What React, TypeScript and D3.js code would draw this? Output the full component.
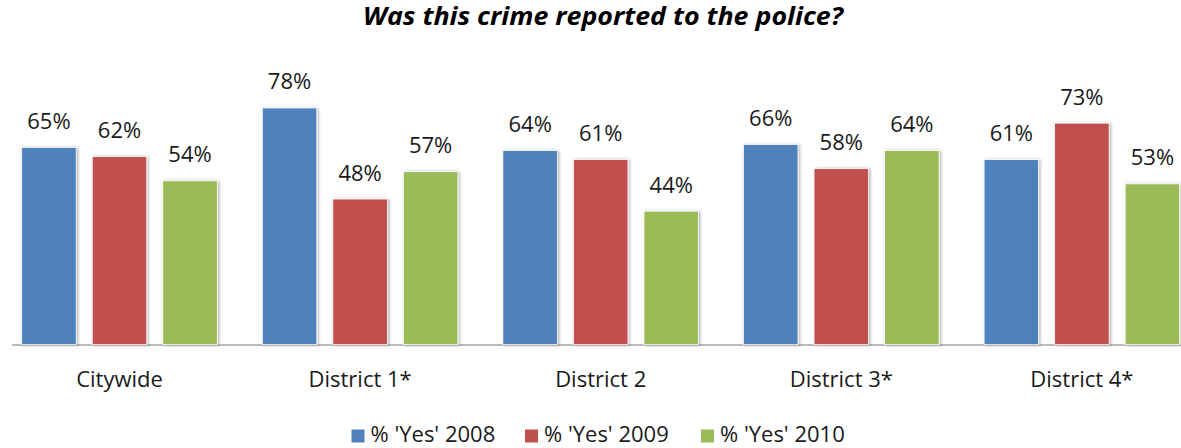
import React from "react";
import * as d3 from "d3";

const categories = ["Citywide", "District 1*", "District 2", "District 3*", "District 4*"];
const seriesNames = ["% 'Yes' 2008", "% 'Yes' 2009", "% 'Yes' 2010"];
const yes2008 = [65, 78, 64, 66, 61];
const yes2009 = [62, 48, 61, 58, 73];
const yes2010 = [54, 57, 44, 64, 53];
const seriesValues = [yes2008, yes2009, yes2010];
const colors = ["#4F81BD", "#C0504D", "#9BBB59"];
const title = "Was this crime reported to the police?";

if (typeof document !== "undefined") {
  document.body.style.margin = "0";
}

const W = 1181;
const H = 448;
const baseline = 344.7;
const FONT = "'Open Sans', 'Noto Sans', sans-serif";

export default function App() {
  const x0 = d3
    .scaleBand<string>()
    .domain(categories)
    .range([-0.8, 1202.2])
    .paddingInner(0.187)
    .paddingOuter(0.0935);
  const x1 = d3
    .scaleBand<string>()
    .domain(seriesNames)
    .range([0, x0.bandwidth()])
    .paddingInner(0.227)
    .paddingOuter(0);
  const y = d3.scaleLinear().domain([0, 100]).range([baseline, baseline - 303.5]);

  const legendX = [351.5, 525, 701];

  return (
    <svg width={W} height={H} style={{ display: "block", background: "#fff" }}>
      <defs>
        <filter id="shadow" x="-20%" y="-20%" width="140%" height="140%">
          <feDropShadow dx="1.2" dy="0.5" stdDeviation="1.6" floodColor="#000" floodOpacity="0.35" />
        </filter>
      </defs>
      <text
        x={603}
        y={25}
        textAnchor="middle"
        fontFamily={FONT}
        fontSize={24.5}
        fontWeight="bold"
        fontStyle="italic"
        fill="#000"
        textLength={480}
        lengthAdjust="spacingAndGlyphs"
      >
        {title}
      </text>

      <line x1={12} x2={W} y1={baseline + 0.3} y2={baseline + 0.3} stroke="#a6a6a6" strokeWidth={1.5} />

      {categories.map((c, ci) => (
        <g key={c} transform={`translate(${x0(c)},0)`}>
          {seriesNames.map((s, si) => {
            const v = seriesValues[si][ci];
            const bx = x1(s)!;
            const bw = x1.bandwidth();
            return (
              <g key={s}>
                <rect
                  x={bx}
                  y={y(v)}
                  width={bw}
                  height={baseline - y(v)}
                  fill={colors[si]}
                  stroke="#ffffff"
                  strokeWidth={0.8}
                  filter="url(#shadow)"
                />
                <text
                  x={bx + bw / 2}
                  y={y(v) - 18.5}
                  textAnchor="middle"
                  fontFamily={FONT}
                  fontSize={22}
                  fill="#1a1a1a"
                >
                  {`${v}%`}
                </text>
              </g>
            );
          })}
          <text
            x={x0.bandwidth() / 2}
            y={386.7}
            textAnchor="middle"
            fontFamily={FONT}
            fontSize={22}
            fill="#1a1a1a"
          >
            {c}
          </text>
        </g>
      ))}

      {seriesNames.map((s, si) => (
        <g key={s} transform={`translate(${legendX[si]},0)`}>
          <rect x={0} y={429.5} width={13} height={13} fill={colors[si]} />
          <text x={19} y={442.3} fontFamily={FONT} fontSize={22} fill="#1a1a1a">
            {s}
          </text>
        </g>
      ))}
    </svg>
  );
}
